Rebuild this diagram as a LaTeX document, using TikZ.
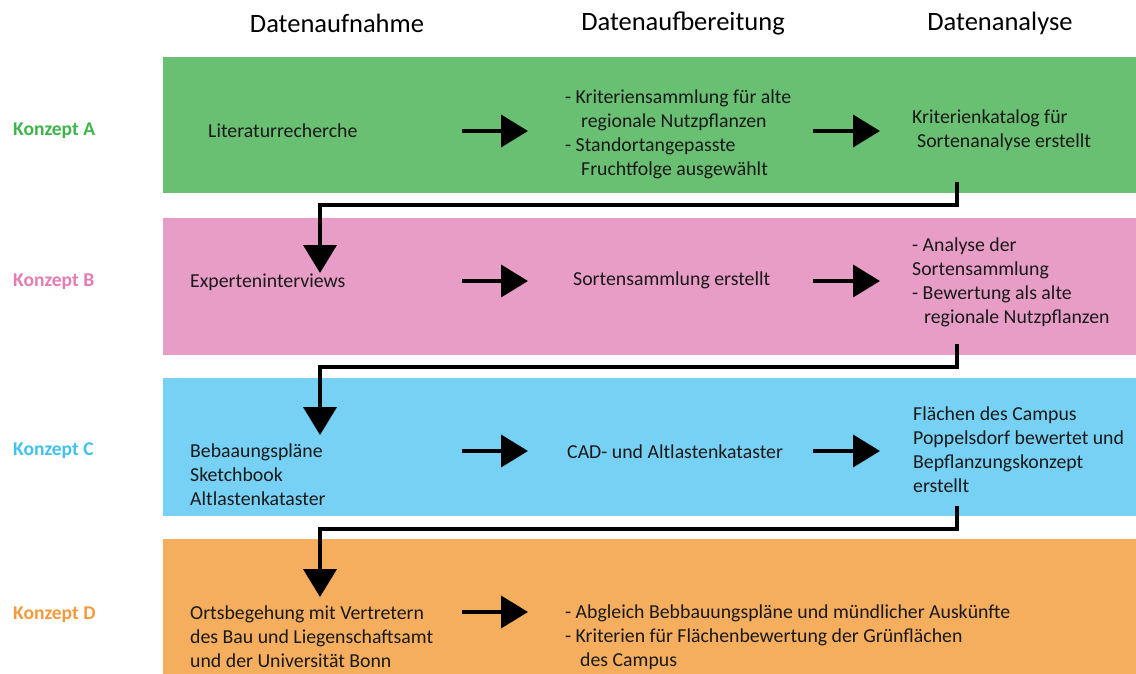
\documentclass[tikz,border=0pt]{standalone}
\usepackage{fontspec}
\setmainfont{Carlito}
\usetikzlibrary{arrows.meta}
\definecolor{bandA}{HTML}{6AC072}
\definecolor{bandB}{HTML}{E89DC6}
\definecolor{bandC}{HTML}{76D1F4}
\definecolor{bandD}{HTML}{F5AE5E}
\definecolor{labA}{HTML}{3DB54A}
\definecolor{labB}{HTML}{E47BB2}
\definecolor{labC}{HTML}{40C2EF}
\definecolor{labD}{HTML}{F39A3A}
\tikzset{
  body/.style={anchor=west, inner sep=0pt, align=left, text=black!90,
    font=\fontsize{19.8}{24}\selectfont},
  header/.style={anchor=center, inner sep=0pt, font=\fontsize{26.5}{30}\selectfont},
  konzept/.style={anchor=west, inner sep=0pt, font=\fontsize{19.5}{24}\selectfont\bfseries},
  flowarrow/.style={line width=4pt, -{Triangle[length=27pt,width=32pt]}},
  elbow/.style={line width=4pt, -{Triangle[length=28pt,width=33pt]}},
}
\begin{document}
\begin{tikzpicture}[x=1pt,y=-1pt]
\useasboundingbox (0,0) rectangle (1136,674);
% bands
\fill[bandA] (163,57) rectangle (1136,193);
\fill[bandB] (163,218) rectangle (1136,355);
\fill[bandC] (163,378) rectangle (1136,516);
\fill[bandD] (163,539) rectangle (1136,674);
% headers
\node[header] (h1) at (337,23) {Datenaufnahme};
\node[header] (h2) at (683,23) {Datenaufbereitung};
\node[header] (h3) at (1000,23) {Datenanalyse};
% Konzept labels
\node[konzept, text=labA] (kA) at (13,131) {Konzept A};
\node[konzept, text=labB] (kB) at (13,282) {Konzept B};
\node[konzept, text=labC] (kC) at (13,451) {Konzept C};
\node[konzept, text=labD] (kD) at (13,615) {Konzept D};
% Row A
\node[body] (a1) at (208,131) {Literaturrecherche};
\node[body] (a2) at (565,134) {- Kriteriensammlung für alte\\\hspace*{16pt}regionale Nutzpflanzen\\- Standortangepasste\\\hspace*{16pt}Fruchtfolge ausgewählt};
\node[body] (a3) at (912,130) {Kriterienkatalog für\\\hspace*{5pt}Sortenanalyse erstellt};
% Row B
\node[body] (b1) at (190,282) {Experteninterviews};
\node[body] (b2) at (573,280) {Sortensammlung erstellt};
\node[body] (b3) at (912,282) {- Analyse der\\Sortensammlung\\- Bewertung als alte\\\hspace*{12pt}regionale Nutzpflanzen};
% Row C
\node[body] (c1) at (190,475) {Bebaaungspläne\\Sketchbook\\Altlastenkataster};
\node[body] (c2) at (567,452) {CAD- und Altlastenkataster};
\node[body] (c3) at (913,450) {Flächen des Campus\\Poppelsdorf bewertet und\\Bepflanzungskonzept\\erstellt};
% Row D
\node[body] (d1) at (190,637) {Ortsbegehung mit Vertretern\\des Bau und Liegenschaftsamt\\und der Universität Bonn};
\node[body] (d2) at (565,637) {- Abgleich Bebbauungspläne und mündlicher Auskünfte\\- Kriterien für Flächenbewertung der Grünflächen\\\hspace*{15pt}des Campus};
% arrow end coordinates
\coordinate (aA1s) at (462,131); \coordinate (aA1e) at (528,131);
\coordinate (aA2s) at (813,131); \coordinate (aA2e) at (880,131);
\coordinate (aB1s) at (462,281); \coordinate (aB1e) at (528,281);
\coordinate (aB2s) at (813,281); \coordinate (aB2e) at (880,281);
\coordinate (aC1s) at (462,451); \coordinate (aC1e) at (528,451);
\coordinate (aC2s) at (813,451); \coordinate (aC2e) at (880,451);
\coordinate (aD1s) at (462,612); \coordinate (aD1e) at (528,612);
\draw[flowarrow] (aA1s) -- (aA1e);
\draw[flowarrow] (aA2s) -- (aA2e);
\draw[flowarrow] (aB1s) -- (aB1e);
\draw[flowarrow] (aB2s) -- (aB2e);
\draw[flowarrow] (aC1s) -- (aC1e);
\draw[flowarrow] (aC2s) -- (aC2e);
\draw[flowarrow] (aD1s) -- (aD1e);
% elbow connectors
\coordinate (eA) at (957,182); \coordinate (tA) at (320,273);
\coordinate (eB) at (957,344); \coordinate (tB) at (320,435);
\coordinate (eC) at (957,506); \coordinate (tC) at (320,597);
\draw[elbow] (eA) -- (957,205) -- (320,205) -- (tA);
\draw[elbow] (eB) -- (957,367) -- (320,367) -- (tB);
\draw[elbow] (eC) -- (957,529) -- (320,529) -- (tC);
\end{tikzpicture}
\end{document}
